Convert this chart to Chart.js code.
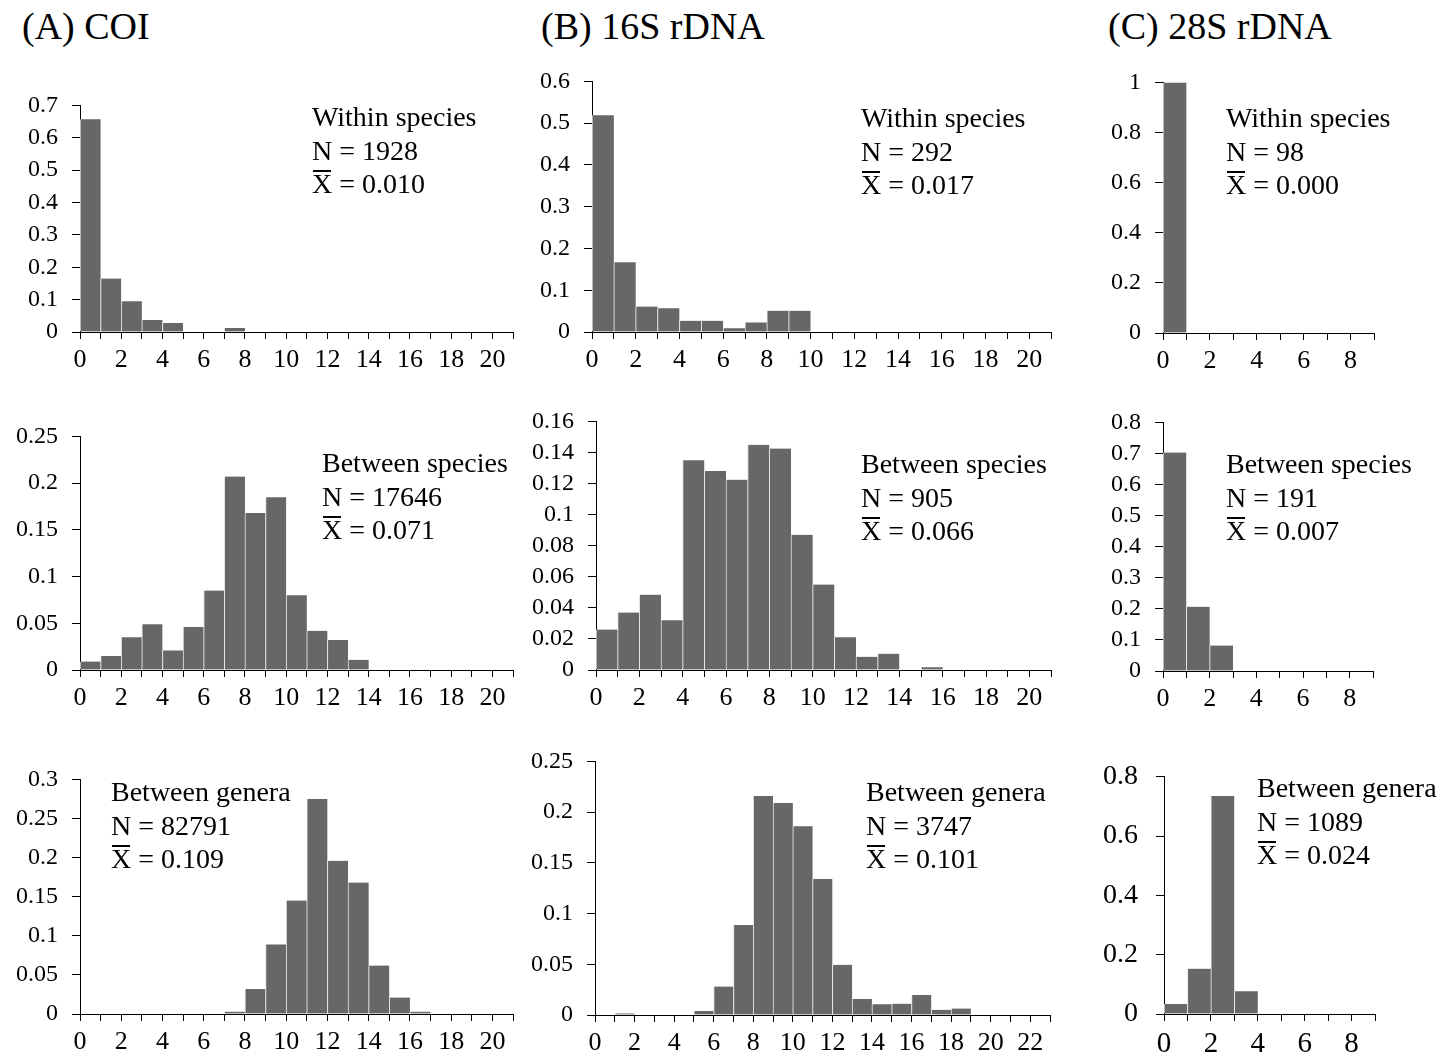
<!DOCTYPE html>
<html>
<head>
<meta charset="utf-8">
<script src="https://cdn.jsdelivr.net/npm/chart.js@4.4.1/dist/chart.umd.min.js"></script>
<style>
  html, body { margin: 0; padding: 0; background: #fff; }
  body { width: 1455px; height: 1057px; position: relative; overflow: hidden; font-family: "Liberation Serif", "Times New Roman", serif; color: #000; }
  canvas { position: absolute; }
  .title { position: absolute; font-size: 38px; line-height: 38px; white-space: nowrap; }
  .note { position: absolute; font-size: 28px; line-height: 33.5px; white-space: nowrap; }
  .xbar { position: relative; display: inline-block; }
  .xbar::before { content: ""; position: absolute; left: 1px; right: 1px; top: 3px; border-top: 2px solid #000; }
</style>
</head>
<body>
<script>
// ---------------- DATA ----------------
const panelTitles = ["(A) COI", "(B) 16S rDNA", "(C) 28S rDNA"];

// proportion of pairwise comparisons per 1%-distance bin (bin i = [i, i+1) %)
const coiWithin          = [0.657, 0.165, 0.095, 0.037, 0.028, 0, 0, 0.012, 0, 0, 0, 0, 0, 0, 0, 0, 0, 0, 0, 0, 0];
const coiBetweenSpecies  = [0.009, 0.015, 0.035, 0.049, 0.021, 0.046, 0.085, 0.207, 0.168, 0.185, 0.080, 0.042, 0.032, 0.011, 0, 0, 0, 0, 0, 0, 0];
const coiBetweenGenera   = [0, 0, 0, 0, 0, 0, 0, 0.003, 0.032, 0.089, 0.145, 0.275, 0.196, 0.168, 0.062, 0.021, 0.003, 0, 0, 0, 0];

const s16Within          = [0.519, 0.167, 0.061, 0.057, 0.027, 0.027, 0.009, 0.023, 0.051, 0.051, 0, 0, 0, 0, 0, 0, 0, 0, 0, 0, 0];
const s16BetweenSpecies  = [0.026, 0.037, 0.0485, 0.032, 0.135, 0.128, 0.1225, 0.145, 0.1425, 0.087, 0.055, 0.021, 0.0085, 0.0105, 0, 0.0017, 0, 0, 0, 0, 0];
const s16BetweenGenera   = [0, 0.0016, 0, 0, 0, 0.004, 0.028, 0.0887, 0.216, 0.209, 0.186, 0.134, 0.0495, 0.0157, 0.0106, 0.0112, 0.0196, 0.0051, 0.0064, 0.0006, 0, 0, 0];

const s28Within          = [1.0, 0, 0, 0, 0, 0, 0, 0, 0];
const s28BetweenSpecies  = [0.703, 0.207, 0.082, 0, 0, 0, 0, 0, 0];
const s28BetweenGenera   = [0.034, 0.153, 0.735, 0.077, 0, 0, 0, 0, 0];

// axis ranges
const xMaxes  = [21, 21, 21, 21, 21, 23, 9, 9, 9];
const yMaxes  = [0.7, 0.25, 0.3, 0.6, 0.16, 0.25, 1.0, 0.8, 0.8];
const ySteps  = [0.1, 0.05, 0.05, 0.1, 0.02, 0.05, 0.2, 0.1, 0.2];

// annotation texts
const groupNames = ["Within species", "Between species", "Between genera",
                    "Within species", "Between species", "Between genera",
                    "Within species", "Between species", "Between genera"];
const nValues    = ["1928", "17646", "82791", "292", "905", "3747", "98", "191", "1089"];
const meanValues = ["0.010", "0.071", "0.109", "0.017", "0.066", "0.101", "0.000", "0.007", "0.024"];

const seriesList = [coiWithin, coiBetweenSpecies, coiBetweenGenera,
                    s16Within, s16BetweenSpecies, s16BetweenGenera,
                    s28Within, s28BetweenSpecies, s28BetweenGenera];

// ---------------- LAYOUT (page pixels) ----------------
// plot boxes: [left, top, right, bottom]
const plotBoxes = [
  [80, 99, 513, 332], [80, 430, 513, 670], [80, 773, 513, 1014],
  [592, 75, 1051, 332], [596, 415, 1051, 670], [595, 755, 1050, 1015],
  [1163, 76, 1374, 333], [1163, 416, 1373, 671], [1164, 764, 1375, 1014]
];
// annotation anchor: [left, first baseline]
const noteAnchors = [
  [312, 126], [322, 472], [111, 801],
  [861, 127], [861, 473], [866, 801],
  [1226, 127], [1226, 473], [1257, 797]
];
const yTickFont = [24, 24, 24, 24, 24, 24, 24, 24, 28];
const xTickFont = [26, 26, 26, 26, 26, 26, 26, 26, 29];
const yTickPad  = [14, 14, 14, 14, 14, 14, 14, 14, 18];
const titleX = [22, 541, 1108];
const titleBaseline = 39;

const YW = 80, XH = 56, PT = 22, PR = 12;
const FONT = "Liberation Serif";

// titles
panelTitles.forEach((t, i) => {
  const d = document.createElement('div');
  d.className = 'title';
  d.textContent = t;
  d.style.left = titleX[i] + 'px';
  d.style.top = (titleBaseline - 32) + 'px';
  document.body.appendChild(d);
});

seriesList.forEach((vals, k) => {
  const [L, T, R, B] = plotBoxes[k];
  const cv = document.createElement('canvas');
  const w = (R - L) + YW + PR, h = (B - T) + PT + XH;
  cv.width = w; cv.height = h;
  cv.style.left = (L - YW) + 'px';
  cv.style.top = (T - PT) + 'px';
  cv.style.width = w + 'px'; cv.style.height = h + 'px';
  document.body.appendChild(cv);

  new Chart(cv, {
    type: 'bar',
    data: {
      datasets: [{
        data: vals.map((v, i) => ({ x: i + 0.5, y: v })),
        backgroundColor: '#676767',
        borderColor: '#e4e4e4',
        borderWidth: { left: 1, right: 0, top: 0, bottom: 0 },
        barPercentage: 1,
        categoryPercentage: 1
      }]
    },
    options: {
      responsive: false,
      animation: false,
      devicePixelRatio: 1,
      layout: { padding: { top: PT, right: PR, left: 0, bottom: 0 } },
      plugins: { legend: { display: false }, tooltip: { enabled: false } },
      scales: {
        x: {
          type: 'linear', min: 0, max: xMaxes[k], offset: false,
          grid: { drawOnChartArea: false, drawTicks: true, tickLength: 7, color: '#000', lineWidth: 1, offset: false },
          border: { display: true, color: '#000', width: 1 },
          ticks: {
            stepSize: 1, autoSkip: false, maxRotation: 0, minRotation: 0, padding: 6,
            color: '#000', font: { family: FONT, size: xTickFont[k] },
            callback: (v) => (Math.round(v) % 2 === 0 ? String(Math.round(v)) : '')
          },
          afterFit: (s) => { s.height = XH; }
        },
        y: {
          min: 0, max: yMaxes[k],
          grid: { drawOnChartArea: false, drawTicks: true, tickLength: 8, color: '#000', lineWidth: 1 },
          border: { display: true, color: '#000', width: 1 },
          ticks: {
            stepSize: ySteps[k], autoSkip: false, padding: yTickPad[k],
            color: '#000', font: { family: FONT, size: yTickFont[k] },
            callback: (v) => String(+(+v).toFixed(3))
          },
          afterFit: (s) => { s.width = YW; }
        }
      }
    }
  });

  // annotation
  const [ax, ab] = noteAnchors[k];
  const d = document.createElement('div');
  d.className = 'note';
  d.style.left = ax + 'px';
  d.style.top = (ab - 26) + 'px';
  d.innerHTML = groupNames[k] + '<br>N = ' + nValues[k] +
    '<br><span class="xbar">X</span> = ' + meanValues[k];
  document.body.appendChild(d);
});
</script>
</body>
</html>
